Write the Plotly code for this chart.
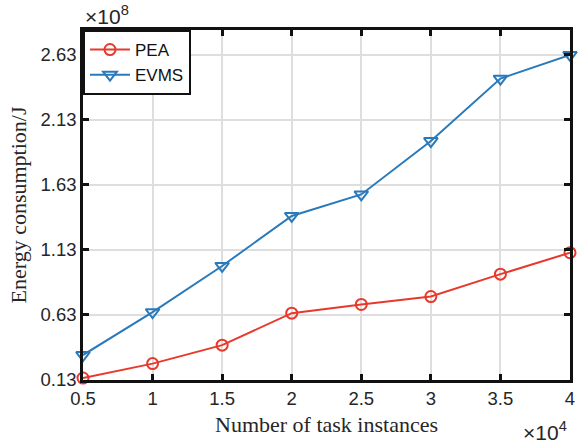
import plotly.graph_objects as go

x_vals = [0.5, 1, 1.5, 2, 2.5, 3, 3.5, 4]
pea = [0.145, 0.256, 0.398, 0.644, 0.711, 0.772, 0.944, 1.109]
evms = [0.322, 0.652, 1.007, 1.392, 1.557, 1.968, 2.448, 2.630]
y_ticks = [0.13, 0.63, 1.13, 1.63, 2.13, 2.63]
y_tick_text = ["0.13", "0.63", "1.13", "1.63", "2.13", "2.63"]
x_ticks = [0.5, 1, 1.5, 2, 2.5, 3, 3.5, 4]
x_tick_text = ["0.5", "1", "1.5", "2", "2.5", "3", "3.5", "4"]

RED = "#e8392c"
BLUE = "#2a7abb"

fig = go.Figure()
fig.add_trace(go.Scatter(
    x=x_vals, y=pea, name="PEA", mode="lines+markers",
    line=dict(color=RED, width=2),
    marker=dict(symbol="circle-open", size=11, color=RED, line=dict(width=2)),
    cliponaxis=False,
))
fig.add_trace(go.Scatter(
    x=x_vals, y=evms, name="EVMS", mode="lines+markers",
    line=dict(color=BLUE, width=2),
    marker=dict(symbol="triangle-down-open", size=12, color=BLUE, line=dict(width=2)),
    cliponaxis=False,
))

axis_common = dict(
    showline=True, linecolor="#111111", linewidth=2.5, mirror="ticks",
    ticks="inside", ticklen=6, tickwidth=2.5, tickcolor="#111111",
    showgrid=True, gridcolor="#dedede", gridwidth=1.5,
    zeroline=False,
    tickfont=dict(family="Liberation Sans, Arial, sans-serif", size=18.5, color="#262626"),
)

fig.update_layout(
    width=578, height=445,
    margin=dict(l=83, r=3, t=30, b=65),
    paper_bgcolor="white", plot_bgcolor="white",
    xaxis=dict(
        range=[0.5, 4], tickvals=x_ticks, ticktext=x_tick_text,
        title=dict(text="Number of task instances", standoff=9,
                   font=dict(family="Liberation Serif, Times New Roman, serif", size=22, color="#262626")),
        **axis_common,
    ),
    yaxis=dict(
        range=[0.13, 2.822], tickvals=y_ticks, ticktext=y_tick_text,
        title=dict(text="Energy consumption/J", standoff=8,
                   font=dict(family="Liberation Serif, Times New Roman, serif", size=22, color="#262626")),
        **axis_common,
    ),
    legend=dict(
        x=0, y=1, xanchor="left", yanchor="top",
        bgcolor="white", bordercolor="#111111", borderwidth=2,
        font=dict(family="Liberation Sans, Arial, sans-serif", size=17, color="#111111"),
        tracegroupgap=0, itemwidth=40,
    ),
    annotations=[
        dict(text="×10<sup>8</sup>", xref="paper", yref="paper", x=0, y=1,
             xanchor="left", yanchor="bottom", yshift=0, xshift=0, showarrow=False,
             font=dict(family="Liberation Sans, Arial, sans-serif", size=21, color="#262626")),
        dict(text="×10<sup>4</sup>", xref="paper", yref="paper", x=1, y=0,
             xanchor="right", yanchor="top", yshift=-36, xshift=-1, showarrow=False,
             font=dict(family="Liberation Sans, Arial, sans-serif", size=21, color="#262626")),
    ],
    showlegend=True,
)

fig.write_html("out.html")
